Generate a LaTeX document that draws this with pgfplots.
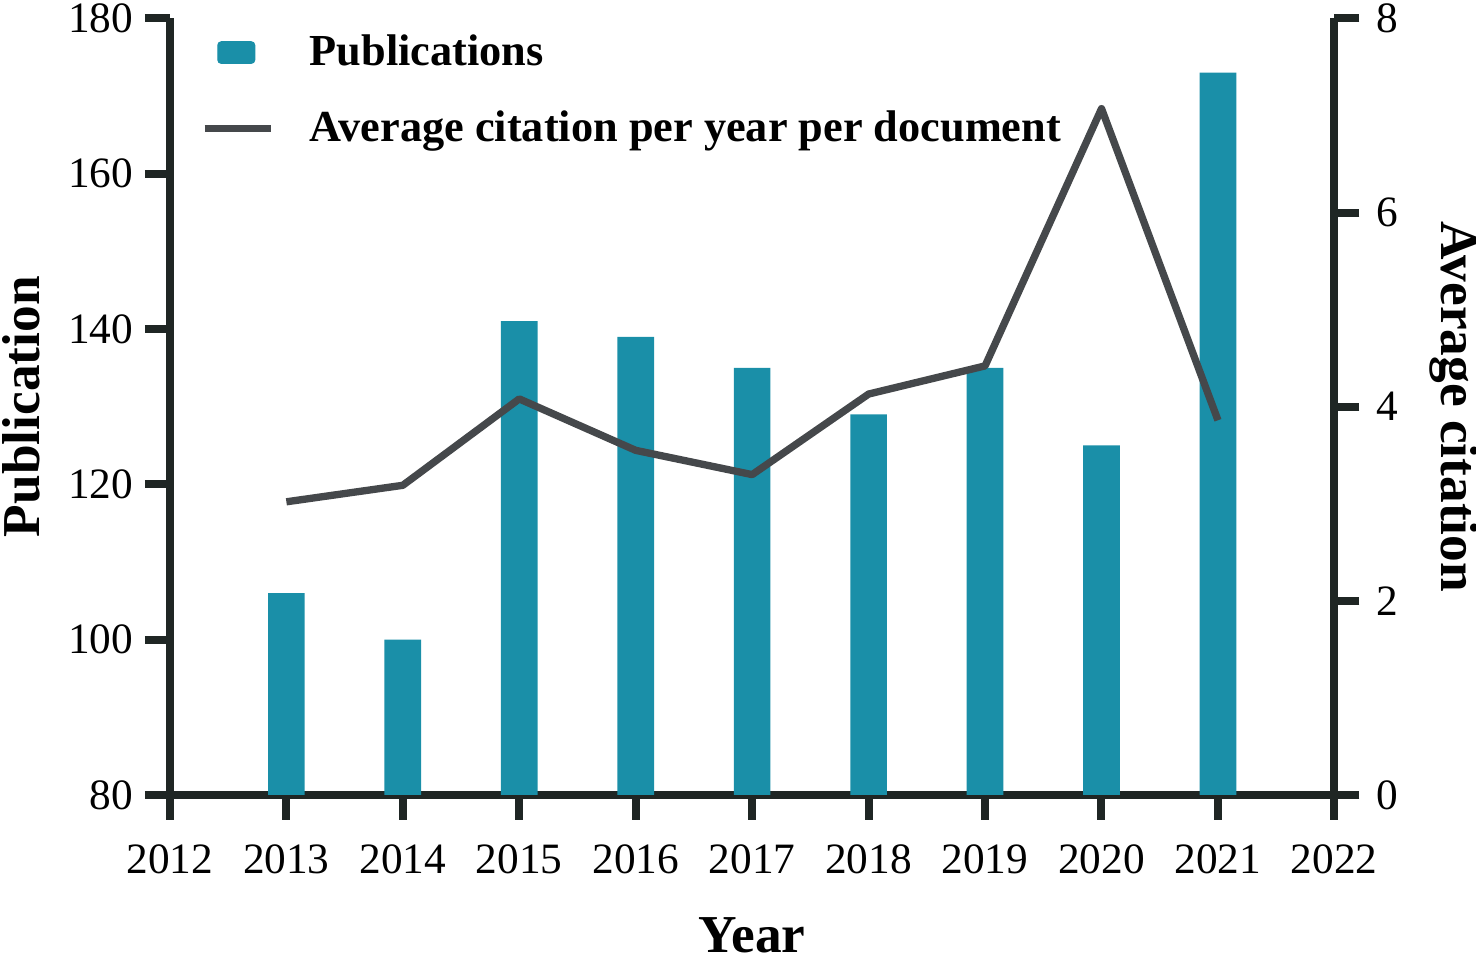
\documentclass[border=0pt]{standalone}
\usepackage{pgfplots}
\pgfplotsset{compat=1.18}
\usepackage{fontspec}
\setmainfont{Liberation Serif}
\definecolor{barc}{HTML}{1A8FA8}
\definecolor{linec}{HTML}{45484B}
\definecolor{axc}{HTML}{1F2624}
\pgfplotsset{
  barleg/.style={legend image code/.code={\fill[barc, rounded corners=1pt] (4pt,-3.2pt) rectangle (15pt,3.2pt); \path (0pt,0pt) (28.5pt,0pt);}},
  lineleg/.style={legend image code/.code={\draw[##1] (0pt,0pt) -- (20pt,0pt); \path (28.5pt,0pt);}},
  common/.style={
    scale only axis, width=349.5pt, height=233.1pt,
    xmin=2012, xmax=2022,
    /pgf/number format/assume math mode=true,
    tick style={axc, line width=2.4pt},
    tick align=outside, major tick length=7.5pt,
    axis line style={axc, line width=2.4pt, -},
    tick label style={font=\fontsize{13}{15}\selectfont},
    label style={font=\bfseries\fontsize{16}{19}\selectfont, inner sep=1pt},
  }
}
\begin{document}
\begin{tikzpicture}
\path[use as bounding box] (-51pt,-48.6pt) rectangle (392pt,238.6pt);
\begin{axis}[common,
  ymin=80, ymax=180, ytick={80,100,...,180},
  axis y line*=left, axis x line*=bottom,
  xtick={2012,...,2022},
  xticklabel={\pgfmathprintnumber[1000 sep={}]{\tick}},
  xticklabel style={yshift=-4pt},
  xlabel={Year}, xlabel style={yshift=-8.5pt},
  ylabel={Publication}, ylabel style={yshift=4pt},
]
\addplot[ybar, bar width=11pt, fill=barc, draw=none] coordinates {
(2013,106) (2014,100) (2015,141) (2016,139) (2017,135)
(2018,129) (2019,135) (2020,125) (2021,173)};
\end{axis}
\begin{axis}[common,
  ymin=0, ymax=8, ytick={0,2,...,8},
  yticklabel style={xshift=1.5pt},
  axis y line*=right, axis x line=none,
  ylabel={Average citation}, ylabel style={rotate=180, yshift=5pt},
  legend style={draw=none, fill=none, at={(axis description cs:0.0175,0.997)}, anchor=north west,
    font=\bfseries\fontsize{13.3}{16}\selectfont, row sep=8pt},
  legend cell align=left,
]
\addlegendimage{barleg}
\addlegendentry{Publications}
\addplot[linec, line width=2.2pt, line join=round, lineleg] coordinates {
(2013,3.02) (2014,3.19) (2015,4.08) (2016,3.55) (2017,3.30)
(2018,4.13) (2019,4.42) (2020,7.07) (2021,3.86)};
\addlegendentry{Average citation per year per document}
\end{axis}
\end{tikzpicture}
\end{document}
